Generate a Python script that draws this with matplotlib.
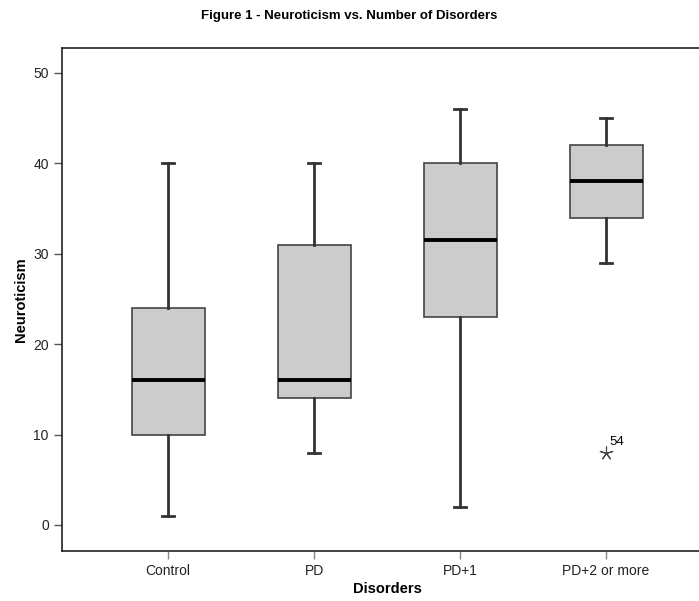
import matplotlib.pyplot as plt

plt.rcParams['font.family'] = ['Liberation Sans', 'DejaVu Sans']

groups = ['Control', 'PD', 'PD+1', 'PD+2 or more']
whisker_low = [1, 8, 2, 29]
q1 = [10, 14, 23, 34]
medians = [16, 16, 31.5, 38]
q3 = [24, 31, 40, 42]
whisker_high = [40, 40, 46, 45]
outliers = [[], [], [], [8]]
outlier_ids = [[], [], [], ['54']]

stats = []
for i, g in enumerate(groups):
    stats.append(dict(label=g, whislo=whisker_low[i], q1=q1[i], med=medians[i],
                      q3=q3[i], whishi=whisker_high[i], fliers=[]))

fig = plt.figure(figsize=(6.99, 6.01), dpi=100)
ax = fig.add_axes([0.0887, 0.0832, 0.930, 0.837])

pos = list(range(len(groups)))
ax.bxp(stats, positions=pos, widths=0.5, capwidths=0.08, patch_artist=True,
       boxprops=dict(facecolor='#cccccc', edgecolor='#444444', linewidth=1.2),
       whiskerprops=dict(color='#333333', linewidth=2),
       capprops=dict(color='#333333', linewidth=2),
       medianprops=dict(color='black', linewidth=2.8))

# extreme values drawn as asterisks with case ids
for i, vals in enumerate(outliers):
    for v, lab in zip(vals, outlier_ids[i]):
        ax.plot(pos[i], v, marker=(5, 2, 0), markersize=10, color='#444444',
                markeredgewidth=0.8, linestyle='none')
        ax.text(pos[i] + 0.02, v + 0.5, lab, fontsize=9.5, ha='left', va='bottom')

ax.set_xlim(-0.726, 3.726)
ax.set_ylim(-2.88, 52.77)
ax.set_yticks([0, 10, 20, 30, 40, 50])
ax.set_xticks(pos)
ax.set_xticklabels(groups)
ax.tick_params(axis='both', labelsize=10, colors='#222222', length=6, width=1)
ax.tick_params(axis='x', color='#888888')
ax.tick_params(axis='y', color='#555555')
for s in ['top', 'left', 'bottom']:
    ax.spines[s].set_linewidth(1.2)
    ax.spines[s].set_color('#222222')
ax.spines['right'].set_visible(False)

ax.set_ylabel('Neuroticism', fontsize=10.5, fontweight='bold', labelpad=4)
ax.set_xlabel('Disorders', fontsize=10.5, fontweight='bold', labelpad=3)
fig.text(0.5, 0.973, 'Figure 1 - Neuroticism vs. Number of Disorders',
         ha='center', va='center', fontsize=9.5, fontweight='bold',
         fontstretch='condensed')

fig.savefig('out.png', dpi=100)
